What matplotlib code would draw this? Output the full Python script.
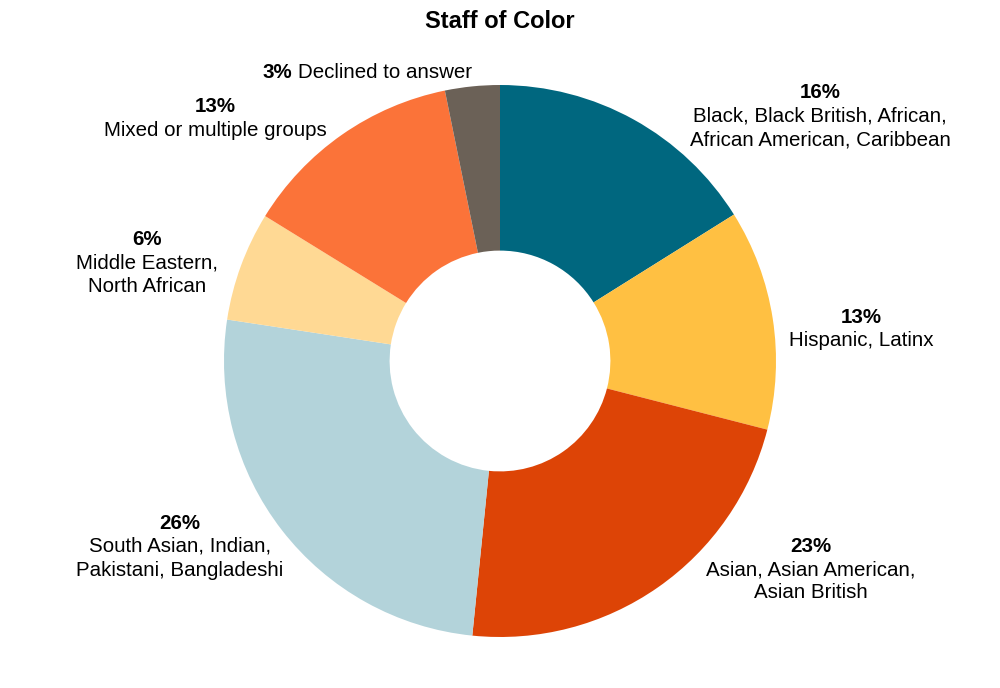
import matplotlib.pyplot as plt

# shares of staff of colour (percent)
groups = ["Black, Black British, African,\nAfrican American, Caribbean",
          "Hispanic, Latinx",
          "Asian, Asian American,\nAsian British",
          "South Asian, Indian,\nPakistani, Bangladeshi",
          "Middle Eastern,\nNorth African",
          "Mixed or multiple groups",
          "Declined to answer"]
shares = [16.1, 12.9, 22.6, 25.8, 6.4, 13.0, 3.2]
colors = ["#00677f", "#ffc042", "#dd4406", "#b3d3da", "#ffd994", "#fb7339", "#6b6157"]

# label block anchors (first line centre), in pixels of the 1000x688 picture
label_px = [(820, 93), (861, 317), (811, 546), (180, 523), (147, 239), (215, 107), (367, 73)]

plt.rcParams['font.family'] = ['Liberation Sans', 'DejaVu Sans']

W, H, R = 1000, 688, 276
cx, cy = 500, 361
fig = plt.figure(figsize=(10, 6.88), dpi=100)
ax = fig.add_axes([0, 0, 1, 1])

ax.pie(shares, colors=colors, startangle=90, counterclock=False,
       wedgeprops=dict(width=0.6, linewidth=0))

ax.set_xlim(-cx / R, (W - cx) / R)
ax.set_ylim(-(H - cy) / R, cy / R)
ax.set_aspect('auto')
ax.axis('off')

def to_data(px, py):
    return (px - cx) / R, (cy - py) / R

step = 23.5
fs = 14.8
for i, (name, val) in enumerate(zip(groups, shares)):
    pct = "%d%%" % round(val)
    px, py = label_px[i]
    if "\n" not in name and i == len(groups) - 1:
        # single line: bold pct then the name
        x, y = to_data(px - 75, py)
        ax.text(x, y, pct, ha='right', va='center', fontsize=fs, fontweight='bold')
        x, y = to_data(px - 69, py)
        ax.text(x, y, name, ha='left', va='center', fontsize=fs)
        continue
    x, y = to_data(px, py)
    ax.text(x, y, pct, ha='center', va='center', fontsize=fs, fontweight='bold')
    for j, line in enumerate(name.split("\n")):
        x, y = to_data(px, py + step * (j + 1))
        ax.text(x, y, line, ha='center', va='center', fontsize=fs)

fig.text(0.5, 1 - 22 / H, "Staff of Color", ha='center', va='center',
         fontsize=17, fontweight='bold')

plt.savefig("out.png", dpi=100)
